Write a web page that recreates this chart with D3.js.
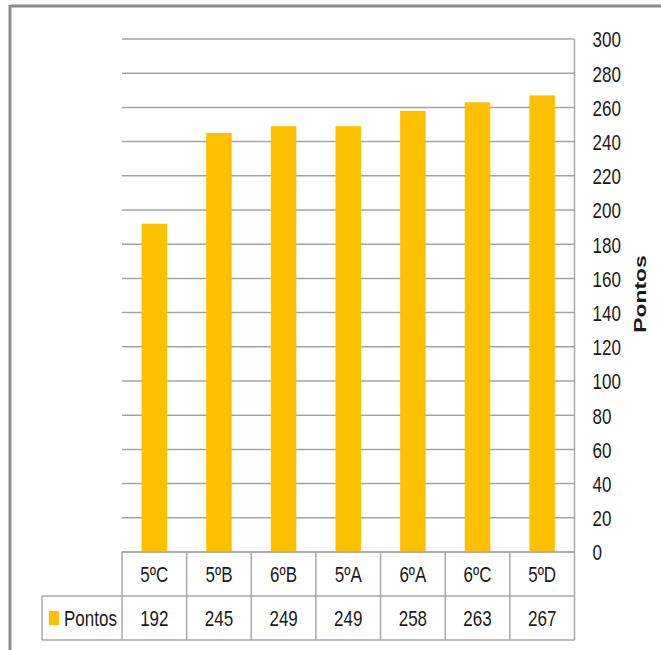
<!DOCTYPE html>
<html><head><meta charset="utf-8">
<script src="https://cdn.jsdelivr.net/npm/d3@7"></script>
<style>
html,body{margin:0;padding:0;background:#fff;}
svg{display:block;}
text{font-family:"Liberation Sans",Arial,sans-serif;fill:#1a1a1a;}
</style></head>
<body>
<script>
const categories = ["5ºC","5ºB","6ºB","5ºA","6ºA","6ºC","5ºD"];
const values = [192,245,249,249,258,263,267];
const seriesName = "Pontos";
const tickValues = [0,20,40,60,80,100,120,140,160,180,200,220,240,260,280,300];

const W = 661, H = 650;
const SY = 1.35; // vertical stretch of text
const FS = 17;

const svg = d3.select("body").append("svg").attr("width", W).attr("height", H);

// outer frame
svg.append("line").attr("x1",10).attr("x2",W).attr("y1",6).attr("y2",6)
  .attr("stroke","#8c8c8c").attr("stroke-width",3);
svg.append("line").attr("x1",10).attr("x2",10).attr("y1",5).attr("y2",H)
  .attr("stroke","#8c8c8c").attr("stroke-width",3);

const pLeft = 122, pRight = 574.5, pTop = 39, pBottom = 552;
const rowH = 44;

const x = d3.scaleBand().domain(categories).range([pLeft, pRight]).padding(0);
const y = d3.scaleLinear().domain([0,300]).range([pBottom, pTop]);

// gridlines
svg.append("g").selectAll("line").data(tickValues).join("line")
  .attr("x1", pLeft).attr("x2", pRight)
  .attr("y1", d => y(d)).attr("y2", d => y(d))
  .attr("stroke","#a3a3a3").attr("stroke-width",1.5);

// bars
const bw = x.bandwidth()*0.395;
svg.append("g").selectAll("rect").data(values).join("rect")
  .attr("x",(d,i)=> x(categories[i]) + (x.bandwidth()-bw)/2)
  .attr("width", bw)
  .attr("y", d => y(d))
  .attr("height", d => y(0)-y(d))
  .attr("fill","#FFC000");

// right axis line
const lineCol = "#a8a8a8";
svg.append("line").attr("x1",pRight).attr("x2",pRight).attr("y1",pTop).attr("y2",pBottom+2*rowH)
  .attr("stroke",lineCol).attr("stroke-width",1.5);

function stext(sel, xx, yy, rot){
  return sel.append("text")
    .attr("transform", `translate(${xx},${yy}) scale(1,${SY})` + (rot? ` rotate(${rot})` : ""));
}
const axis = d3.axisRight(y).tickValues(tickValues).tickSize(0).tickPadding(18);
const ag = svg.append("g").attr("transform",`translate(${pRight},0)`).call(axis);
ag.select(".domain").remove();
ag.selectAll(".tick text")
  .attr("x", null).attr("dy", null)
  .attr("font-size", FS).attr("font-family",'"Liberation Sans",Arial,sans-serif')
  .attr("fill","#1a1a1a")
  .attr("text-anchor","start")
  .attr("dominant-baseline","central")
  .attr("transform", `translate(18,0) scale(1,${SY})`);

// axis title
stext(svg, 640, 294, -90).text(seriesName)
  .attr("font-size", FS).attr("font-weight","bold")
  .attr("text-anchor","middle").attr("dominant-baseline","central");

// data table
const tg = svg.append("g");
[[pLeft,pBottom],[42,pBottom+rowH],[42,pBottom+2*rowH]].forEach(([x1,yy]) => {
  tg.append("line").attr("x1",x1).attr("x2",pRight).attr("y1",yy).attr("y2",yy)
    .attr("stroke",lineCol).attr("stroke-width",1.5);
});
tg.selectAll("line.v").data(categories).join("line").attr("class","v")
  .attr("x1", d => x(d)).attr("x2", d => x(d))
  .attr("y1", pBottom).attr("y2", pBottom+2*rowH)
  .attr("stroke",lineCol).attr("stroke-width",1.5);
tg.append("line").attr("x1",42).attr("x2",42).attr("y1",pBottom+rowH).attr("y2",pBottom+2*rowH)
  .attr("stroke",lineCol).attr("stroke-width",1.5);

categories.forEach(c => {
  stext(tg, x(c)+x.bandwidth()/2, pBottom+rowH/2, 0).text(c)
    .attr("font-size",FS).attr("text-anchor","middle").attr("dominant-baseline","central");
});
values.forEach((v,i) => {
  stext(tg, x(categories[i])+x.bandwidth()/2, pBottom+rowH*1.5, 0).text(v)
    .attr("font-size",FS).attr("text-anchor","middle").attr("dominant-baseline","central");
});
tg.append("rect").attr("x",49).attr("y",pBottom+rowH*1.5-7).attr("width",10).attr("height",14).attr("fill","#FFC000");
stext(tg, 64, pBottom+rowH*1.5, 0).text(seriesName)
  .attr("font-size",FS).attr("text-anchor","start").attr("dominant-baseline","central");
</script>
</body></html>
